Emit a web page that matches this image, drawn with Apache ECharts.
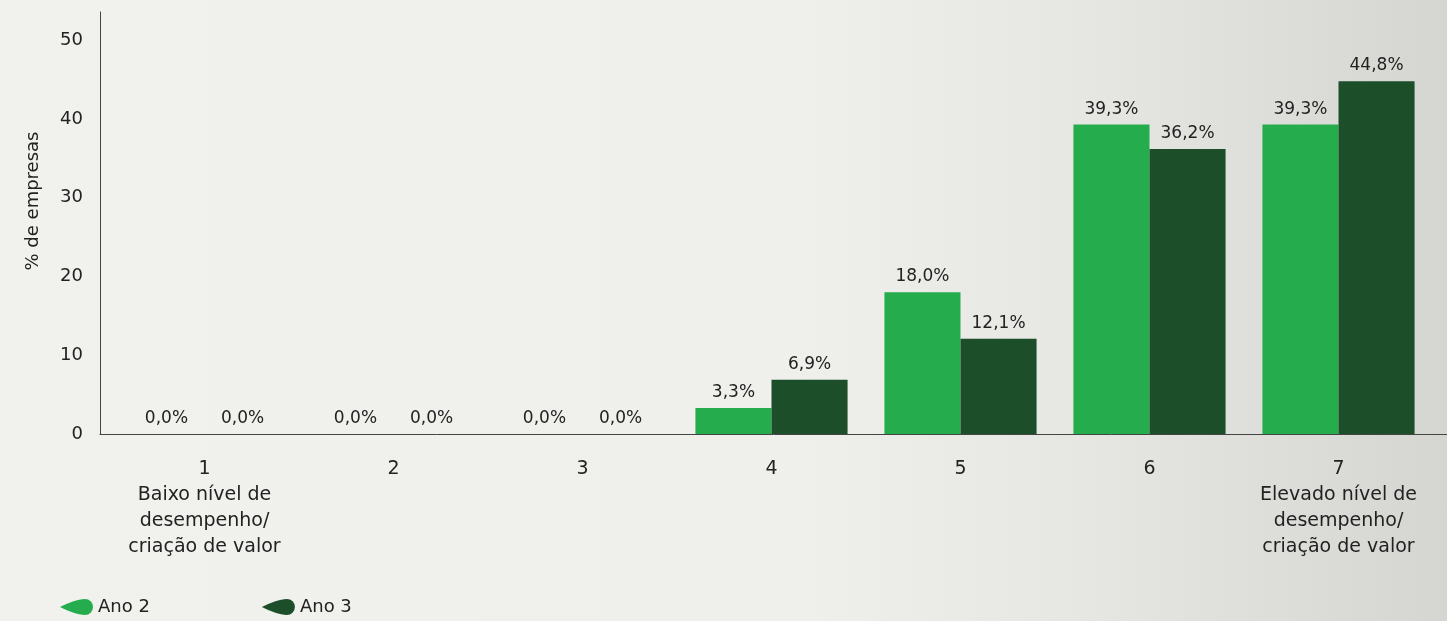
<!DOCTYPE html>
<html>
<head>
<meta charset="utf-8">
<script src="https://cdn.jsdelivr.net/npm/echarts@6/dist/echarts.min.js"></script>
<style>
html,body{margin:0;padding:0;width:1447px;height:621px;overflow:hidden;
background:linear-gradient(to right,#f1f1ee 0%,#efefec 55%,#e6e6e3 75%,#d5d5d2 100%);}
#c{width:1447px;height:621px;}
</style>
</head>
<body>
<div id="c"></div>
<script>
const categories = ["1","2","3","4","5","6","7"];
const categoryNotes = ["Baixo nível de\ndesempenho/\ncriação de valor","","","","","","Elevado nível de\ndesempenho/\ncriação de valor"];
const ano2 = [0.0, 0.0, 0.0, 3.3, 18.0, 39.3, 39.3];
const ano3 = [0.0, 0.0, 0.0, 6.9, 12.1, 36.2, 44.8];
const seriesNames = ["Ano 2","Ano 3"];
const yTicks = [0,10,20,30,40,50];

const FONT = "DejaVu Sans, Open Sans, sans-serif";
const fmt = p => p.value.toFixed(1).replace('.', ',') + '%';
const leaf = 'path://M0,8 C8,4 18,0 25,0 A8,8 0 0 1 25,16 C18,16 8,12 0,8 Z';

const chart = echarts.init(document.getElementById('c'), null, {renderer:'canvas'});
chart.setOption({
  backgroundColor: 'transparent',
  animation: false,
  textStyle: {fontFamily: FONT},
  grid: [
    {left: 110, right: 14, top: 12, bottom: 187},
    {left: 100, right: 0, top: 12, bottom: 187}
  ],
  legend: {
    data: seriesNames.map((n, i) => ({name: n, icon: leaf, itemStyle: {color: i ? '#1b4e29' : '#25ad4d'}})),
    left: 60, bottom: 5, padding: 0,
    itemWidth: 33, itemHeight: 16, itemGap: 112,
    textStyle: {fontFamily: FONT, fontSize: 18, color: '#222'}
  },
  xAxis: [
    {
      type: 'category', gridIndex: 0, data: categories,
      axisLine: {show: false}, axisTick: {show: false},
      axisLabel: {
        margin: 22, color: '#222', fontSize: 19, lineHeight: 26, interval: 0,
        formatter: (v, i) => categoryNotes[i] ? v + '\n' + categoryNotes[i] : v
      }
    },
    {
      type: 'value', gridIndex: 1, min: 0, max: 1,
      axisLine: {show: true, lineStyle: {color: '#444', width: 1}},
      axisTick: {show: false}, axisLabel: {show: false}, splitLine: {show: false}
    }
  ],
  yAxis: [
    {
      type: 'value', gridIndex: 0, min: 0, max: 53.6, interval: 10,
      name: '% de empresas', nameLocation: 'middle', nameGap: 68,
      nameTextStyle: {fontSize: 18, color: '#222', padding: [0, 0, 0, 44]},
      axisLine: {show: false}, axisTick: {show: false}, splitLine: {show: false},
      axisLabel: {margin: 27, color: '#222', fontSize: 18, showMaxLabel: false,
        formatter: v => yTicks.includes(v) ? String(v) : ''}
    },
    {
      type: 'value', gridIndex: 1, min: 0, max: 1,
      axisLine: {show: true, lineStyle: {color: '#444', width: 1}},
      axisTick: {show: false}, axisLabel: {show: false}, splitLine: {show: false}
    }
  ],
  series: [
    {
      name: seriesNames[0], type: 'bar', data: ano2, xAxisIndex: 0, yAxisIndex: 0,
      barGap: '0%', barCategoryGap: '19.5%',
      itemStyle: {color: '#25ad4d'},
      label: {show: true, position: 'top', distance: 7, formatter: fmt, color: '#222', fontSize: 17}
    },
    {
      name: seriesNames[1], type: 'bar', data: ano3, xAxisIndex: 0, yAxisIndex: 0,
      barGap: '0%', barCategoryGap: '19.5%',
      itemStyle: {color: '#1b4e29'},
      label: {show: true, position: 'top', distance: 7, formatter: fmt, color: '#222', fontSize: 17}
    }
  ]
});
</script>
</body>
</html>
